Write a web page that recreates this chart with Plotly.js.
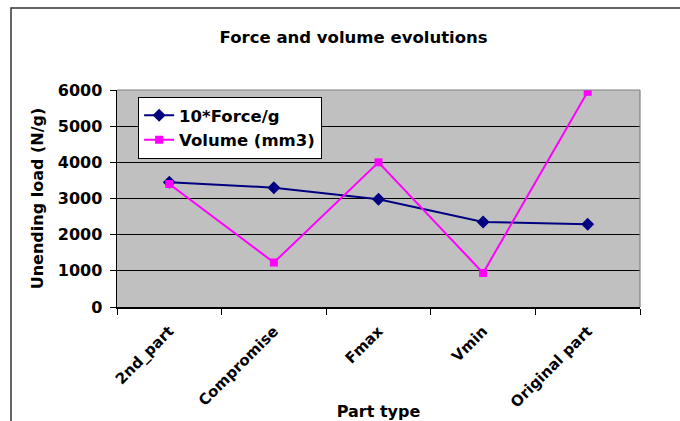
<!DOCTYPE html>
<html>
<head>
<meta charset="utf-8">
<script src="https://cdn.plot.ly/plotly-3.0.1.min.js"></script>
<style>
html,body{margin:0;padding:0;background:#fff;}
#chart{width:680px;height:421px;}
</style>
</head>
<body>
<div id="chart"></div>
<script>
const categories = ["2nd_part", "Compromise", "Fmax", "Vmin", "Original part"];
const forceValues = [3450, 3300, 2980, 2350, 2290];
const volumeValues = [3400, 1230, 4000, 940, 5950];
const yTicks = [0, 1000, 2000, 3000, 4000, 5000, 6000];

const font = {family: "DejaVu Sans, Verdana, sans-serif", color: "#000", weight: "bold"};
const f = (size) => Object.assign({}, font, {size: size});

const traces = [
  {x: categories, y: forceValues, name: "10*Force/g", type: "scatter", mode: "lines+markers",
   line: {color: "#000080", width: 2}, marker: {symbol: "diamond", size: 10, color: "#000080"}},
  {x: categories, y: volumeValues, name: "Volume (mm3)", type: "scatter", mode: "lines+markers",
   line: {color: "#ff00ff", width: 2}, marker: {symbol: "square", size: 8, color: "#ff00ff"}}
];

const layout = {
  width: 680, height: 421,
  margin: {l: 117, r: 40, t: 90, b: 114},
  paper_bgcolor: "#fff",
  plot_bgcolor: "#c0c0c0",
  showlegend: true,
  title: {text: "Force and volume evolutions", x: 0.52, xanchor: "center", y: 0.912, yanchor: "middle",
          font: f(16.5)},
  xaxis: {
    type: "category", tickson: "boundaries", ticks: "outside", ticklen: 6, tickcolor: "#000",
    showline: true, linecolor: "#000", linewidth: 1.5, mirror: false, showgrid: false,
    tickangle: -45, tickfont: f(15), ticklabelstandoff: 8,
    title: {text: "Part type", font: f(16), standoff: 0},
    range: [-0.5, 4.5], fixedrange: true
  },
  yaxis: {
    range: [0, 6000], tickvals: yTicks,
    ticks: "outside", ticklen: 6, tickcolor: "#000",
    showline: true, linecolor: "#000", linewidth: 1.5,
    showgrid: true, gridcolor: "#000", gridwidth: 1.2, zeroline: false,
    tickfont: f(16), ticklabelstandoff: 4,
    title: {text: "Unending load (N/g)", font: f(16), standoff: 10},
    fixedrange: true
  },
  legend: {
    x: 0.04, y: 0.968, xanchor: "left", yanchor: "top",
    bgcolor: "#fff", bordercolor: "#000", borderwidth: 1.2,
    font: f(16.5),
    tracegroupgap: 0
  },
  shapes: [
    {type: "line", xref: "paper", yref: "paper", x0: 1, x1: 1, y0: 0, y1: 1,
     line: {color: "#808080", width: 1.2}},
    {type: "line", xref: "paper", yref: "paper", x0: 0, x1: 1, y0: 1, y1: 1,
     line: {color: "#808080", width: 1.2}}
  ]
};

Plotly.newPlot("chart", traces, layout, {displayModeBar: false, staticPlot: true}).then(() => {
  const svg = document.querySelector("#chart .main-svg");
  const ns = "http://www.w3.org/2000/svg";
  const r = document.createElementNS(ns, "rect");
  r.setAttribute("x", 11); r.setAttribute("y", 8);
  r.setAttribute("width", 700); r.setAttribute("height", 500);
  r.setAttribute("fill", "none"); r.setAttribute("stroke", "#333"); r.setAttribute("stroke-width", 1.5);
  svg.appendChild(r);
});
</script>
</body>
</html>
